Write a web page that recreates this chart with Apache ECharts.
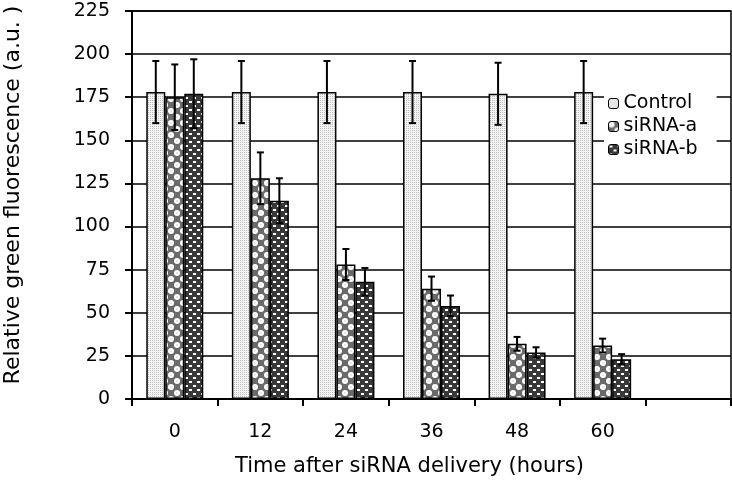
<!DOCTYPE html>
<html>
<head>
<meta charset="utf-8">
<script src="https://cdn.jsdelivr.net/npm/echarts@6/dist/echarts.min.js"></script>
<style>
html,body{margin:0;padding:0;background:#fff;}
#chart{width:732px;height:485px;}
</style>
</head>
<body>
<div id="chart"></div>
<script>
// ---- data ----
const categories = ['0', '12', '24', '36', '48', '60', ''];
const seriesNames = ['Control', 'siRNA-a', 'siRNA-b'];
const control = [178, 178, 178, 178, 177, 178];
const controlErr = [18, 18, 18, 18, 18, 18];
const sirnaA = [175, 128, 78, 64, 32, 31];
const sirnaAErr = [19, 15, 9, 7, 4, 4];
const sirnaB = [177, 115, 68, 54, 27, 23];
const sirnaBErr = [20, 13, 8, 6, 3, 3];
const yMin = 0, yMax = 225, yInterval = 25;
const xTitle = 'Time after siRNA delivery (hours)';
const yTitle = 'Relative green fluorescence (a.u. )';

// ---- patterns ----
function makeCanvas(w, h, draw) {
  const c = document.createElement('canvas');
  c.width = w; c.height = h;
  const ctx = c.getContext('2d');
  draw(ctx);
  return c;
}
const patControl = makeCanvas(4, 4, ctx => {
  ctx.fillStyle = '#f4f4f4'; ctx.fillRect(0, 0, 4, 4);
  ctx.fillStyle = '#bdbdbd';
  ctx.fillRect(0, 0, 1, 1); ctx.fillRect(2, 2, 1, 1);
  ctx.fillRect(2, 0, 1, 1); ctx.fillRect(0, 2, 1, 1);
});
const patA = makeCanvas(12, 12, ctx => {
  ctx.fillStyle = '#6a6a6a'; ctx.fillRect(0, 0, 12, 12);
  ctx.fillStyle = '#ffffff';
  ctx.beginPath(); ctx.arc(3, 3, 3, 0, Math.PI * 2); ctx.fill();
  ctx.beginPath(); ctx.arc(9, 9, 3, 0, Math.PI * 2); ctx.fill();
  ctx.fillStyle = '#a0a0a0';
  ctx.fillRect(2.5, 2.5, 1, 1); ctx.fillRect(8.5, 8.5, 1, 1);
});
const patB = makeCanvas(8, 8, ctx => {
  ctx.fillStyle = '#383838'; ctx.fillRect(0, 0, 8, 8);
  ctx.fillStyle = '#ffffff';
  ctx.fillRect(1, 1, 3, 2);
  ctx.fillRect(5, 5, 3, 2);
});
const patterns = [patControl, patA, patB];

const barWidth = 19;
const fontFam = 'DejaVu Sans';

function errRenderer(k) {
  return function (params, api) {
    const x = api.value(0), v = api.value(1), e = api.value(2);
    const top = api.coord([x, v + e]);
    const bot = api.coord([x, v - e]);
    const cx = top[0] + (k - 1) * barWidth;
    const cap = 3.5;
    const style = { stroke: '#000', lineWidth: 2 };
    return {
      type: 'group',
      children: [
        { type: 'line', shape: { x1: cx, y1: top[1], x2: cx, y2: bot[1] }, style },
        { type: 'line', shape: { x1: cx - cap, y1: top[1], x2: cx + cap, y2: top[1] }, style },
        { type: 'line', shape: { x1: cx - cap, y1: bot[1], x2: cx + cap, y2: bot[1] }, style }
      ]
    };
  };
}

const values = [control, sirnaA, sirnaB];
const errs = [controlErr, sirnaAErr, sirnaBErr];

const series = [];
values.forEach((vals, k) => {
  series.push({
    name: seriesNames[k],
    type: 'bar',
    barWidth: barWidth,
    barGap: '0%',
    data: vals,
    itemStyle: {
      color: { image: patterns[k], repeat: 'repeat' },
      borderColor: '#000',
      borderWidth: 1.5
    },
    emphasis: { disabled: true },
    z: 2
  });
});
values.forEach((vals, k) => {
  series.push({
    name: seriesNames[k] + ' error',
    type: 'custom',
    renderItem: errRenderer(k),
    data: vals.map((v, i) => [i, v, errs[k][i]]),
    z: 5,
    silent: true
  });
});

const chart = echarts.init(document.getElementById('chart'), null, { renderer: 'canvas' });
chart.setOption({
  animation: false,
  backgroundColor: '#fff',
  textStyle: { fontFamily: fontFam },
  grid: {
    left: 132, right: 1, top: 11, bottom: 86,
    containLabel: false,
    outerBoundsMode: 'none',
    show: true, borderColor: '#000', borderWidth: 1.5, backgroundColor: 'transparent'
  },
  legend: {
    data: seriesNames,
    orient: 'vertical',
    left: 604, top: 88,
    itemWidth: 10, itemHeight: 10, itemGap: 4,
    backgroundColor: '#fff',
    padding: [6, 19, 6, 4],
    itemStyle: { borderColor: '#000', borderWidth: 1 },
    textStyle: { fontFamily: fontFam, fontSize: 19, color: '#000', lineHeight: 19 }
  },
  xAxis: {
    type: 'category',
    data: categories,
    boundaryGap: true,
    axisLine: { lineStyle: { color: '#000', width: 2 } },
    axisTick: { show: true, length: 7, interval: 0, lineStyle: { color: '#000', width: 2 } },
    axisLabel: { color: '#000', fontSize: 19, margin: 24, fontFamily: fontFam, interval: 0 },
    name: xTitle,
    nameLocation: 'middle',
    nameGap: 57,
    nameTextStyle: { color: '#000', fontSize: 21, fontFamily: fontFam, padding: [0, 44, 0, 0] }
  },
  yAxis: {
    type: 'value',
    min: yMin, max: yMax, interval: yInterval,
    axisLine: { show: true, lineStyle: { color: '#000', width: 2 } },
    axisTick: { show: true, length: 7, lineStyle: { color: '#000', width: 2 } },
    axisLabel: { color: '#000', fontSize: 19, margin: 22, fontFamily: fontFam },
    splitLine: { show: true, lineStyle: { color: '#000', width: 1.5 } },
    name: yTitle,
    nameLocation: 'middle',
    nameGap: 108,
    nameTextStyle: { color: '#000', fontSize: 22, fontFamily: fontFam, padding: [0, 0, 0, 20] }
  },
  series: series
});
</script>
</body>
</html>
